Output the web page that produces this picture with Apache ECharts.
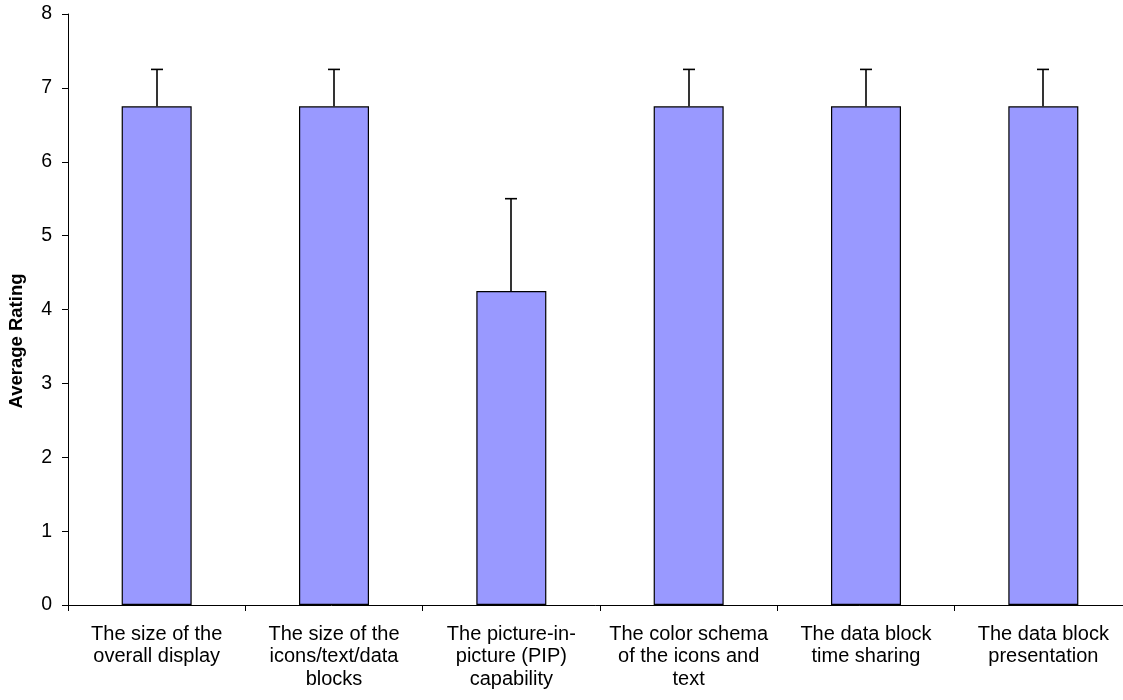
<!DOCTYPE html>
<html><head><meta charset="utf-8">
<script src="https://cdn.jsdelivr.net/npm/echarts@6/dist/echarts.min.js"></script>
<style>html,body{margin:0;padding:0;background:#fff}#c{width:1123px;height:700px}</style>
</head><body><div id="c"></div>
<script>
const categories = ["The size of the\noverall display","The size of the\nicons/text/data\nblocks","The picture-in-\npicture (PIP)\ncapability","The color schema\nof the icons and\ntext","The data block\ntime sharing","The data block\npresentation"];
const values = [6.75, 6.75, 4.25, 6.75, 6.75, 6.75];
const errorTop = [7.25, 7.25, 5.5, 7.25, 7.25, 7.25];
const yTicks = [0,1,2,3,4,5,6,7,8];
const yTitle = 'Average Rating';

const chart = echarts.init(document.getElementById('c'));
const font = '"Liberation Sans", Arial, sans-serif';
chart.setOption({
  animation:false,
  grid:{left:68,right:-9,top:14,bottom:95,containLabel:false,outerBoundsMode:'none'},
  graphic:[{type:'text',x:17,y:341,rotation:Math.PI/2,
    style:{text:yTitle,fill:'#000',font:'bold 18.5px "Liberation Sans", Arial, sans-serif',align:'center',verticalAlign:'middle'}}],
  xAxis:{type:'category',data:categories,
    axisLine:{lineStyle:{color:'#000',width:1}},
    axisTick:{show:true,length:6,lineStyle:{color:'#000'},alignWithLabel:false},
    axisLabel:{color:'#000',fontFamily:font,fontSize:20,lineHeight:22.5,margin:18,interval:0}},
  yAxis:{type:'value',min:0,max:8,interval:1,
    axisLine:{show:true,lineStyle:{color:'#000',width:1}},
    axisTick:{show:true,length:6,lineStyle:{color:'#000'}},
    splitLine:{show:false},
    axisLabel:{color:'#000',fontFamily:font,fontSize:19.5,margin:16,formatter:v=>yTicks.includes(v)?String(v):''}},
  series:[
    {type:'bar',data:values,barWidth:70,itemStyle:{color:'#9999ff',borderColor:'#000',borderWidth:1.2},z:2},
    {type:'custom',z:1,data:values.map((v,i)=>[i,v,errorTop[i]]),
     renderItem:(params,api)=>{
       const base=api.coord([api.value(0),api.value(1)]);
       const top=api.coord([api.value(0),api.value(2)]);
       const x=Math.round(base[0]);
       return {type:'group',children:[
         {type:'line',shape:{x1:x,y1:base[1],x2:x,y2:top[1]},style:{stroke:'#000',lineWidth:1.6}},
         {type:'line',shape:{x1:x-6,y1:top[1],x2:x+6,y2:top[1]},style:{stroke:'#000',lineWidth:1.6}}
       ]};
     }}
  ]
});
</script></body></html>
